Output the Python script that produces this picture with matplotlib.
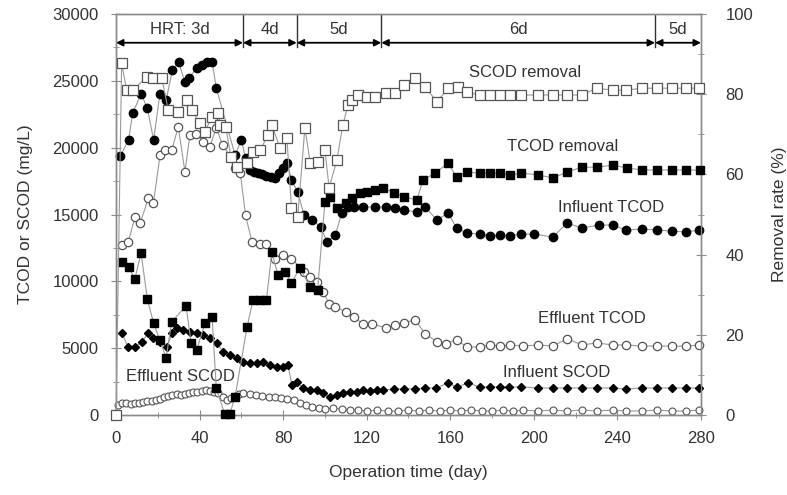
import matplotlib
matplotlib.use("Agg")
import matplotlib.pyplot as plt

plt.rcParams['font.family'] = ['Liberation Sans', 'DejaVu Sans']

# ---------------- data ----------------
# Influent TCOD (mg/L)
inf_tcod_day = [2, 6, 8, 12, 15, 18, 21, 24, 27, 30, 33, 35, 38.6, 41, 43.4, 46, 48, 57, 60, 62,
                64, 66, 68, 70, 72, 74, 76, 78, 80, 82, 84, 87, 90, 94, 98, 101, 105, 108, 111, 114,
                118, 124, 129, 133.5, 138, 144, 148, 153.6, 159, 163, 168, 174, 179, 184, 188.5, 194,
                200, 209, 216, 223, 231, 238, 244, 252, 259, 266, 273, 279]
inf_tcod = [19370, 20570, 22590, 24010, 22960, 20570, 24010, 23560, 25810, 26400, 24900, 25200, 25960,
            26180, 26400, 26400, 24460, 19450, 20570, 19220,
            18300, 18200, 18100, 18000, 17900, 17800, 17700, 18100, 18500, 18850, 17580, 16680, 14960,
            14590, 14060, 12940, 13460, 15110, 15560, 15560,
            15560, 15560, 15560, 15480, 15330, 15180, 15560, 14590, 15110, 13990, 13610, 13540, 13390,
            13460, 13390, 13540,
            13540, 13310, 14360, 13990, 14210, 14210, 13840, 13910, 13840, 13760, 13690, 13840]

# Effluent TCOD (mg/L)
eff_tcod_day = [2.7, 5.9, 9.1, 11.5, 15.5, 17.9, 21.1, 23.4, 26.7, 29.8, 33, 35.4, 38.5, 41.8, 45, 48,
                51, 55.4, 57, 59.5, 62, 65, 69, 72, 76, 80, 84, 90, 93, 96, 99, 102, 105, 110, 114, 118,
                122.5, 129, 133.5, 138, 143, 148, 153.6, 158, 163, 168, 174, 179, 184, 188.5, 194.7,
                202, 209, 216, 223, 230, 238, 244, 252, 259, 266, 273, 279]
eff_tcod = [12720, 12960, 14830, 14340, 16210, 15840, 19450, 19820, 19820, 21570, 18200, 20940, 21000,
            20440, 20070, 21500, 20200, 19200, 18450, 18100, 14960, 12970, 12820, 12820, 11700, 12000,
            11700, 10730, 10300, 9980, 9230, 8330, 8100, 7700, 7350, 6820,
            6820, 6530, 6750, 6900, 7130, 6080, 5470, 5330, 5630, 5090, 5090, 5240, 5160, 5240, 5160,
            5240, 5160, 5700, 5240, 5390, 5240, 5240, 5160, 5160, 5160, 5160, 5240]

# Influent SCOD (mg/L)
inf_scod_day = [2.9, 5.7, 9.1, 12.4, 15.3, 17.9, 21, 24.4, 26.8, 29.2, 32, 35.4, 38.8, 41.6, 45, 48.3,
                51.2, 54.5, 57.9, 60.8, 64.1, 67.5, 70.4, 73.7, 77, 80, 82.3, 84.2, 86.6, 89.5, 92.9,
                96.2, 99, 102.4, 105.8, 108.6, 112, 115.3, 118.2, 121.6, 125, 127.8, 133, 138, 143,
                148, 153, 159, 163, 168.5, 174, 179, 184, 188, 194, 202, 209, 216, 223, 230, 238, 244,
                252, 259, 266, 273, 279]
inf_scod = [6130, 5090, 5090, 5460, 6130, 5740, 5460, 5090, 6130, 6510, 6360, 6210, 6130, 5980, 5760,
            5390, 4710, 4490, 4260, 3960, 3890, 3890, 3960, 3740, 3590, 3590, 3740, 2240, 2470, 2020,
            1870, 1870, 1650, 1350, 1500, 1650, 1720, 1720, 1870, 1800, 1870, 1870, 1950, 1950, 1950,
            2020, 2020, 2390, 2100, 2390, 2100, 2100, 2100, 2100, 2100, 2020, 2020, 2020, 2020, 2020,
            2020, 1950, 2020, 2020, 2020, 2020, 2020]

# Effluent SCOD (mg/L)
eff_scod_day = [1, 3, 5, 7, 9, 11, 13, 15, 17, 19, 21, 23, 25, 27, 29, 31, 33, 35, 37, 39, 41, 43, 45,
                47, 49, 51, 53, 55, 57, 59, 61, 64, 67, 70, 73, 76, 79, 82, 85, 88, 91, 94, 97, 100,
                104, 108, 112, 116, 120, 125, 130, 135, 140, 145, 150, 155, 160, 165, 170, 175, 180,
                185, 190, 195, 202, 209, 216, 223, 230, 238, 244, 252, 259, 266, 273, 279]
eff_scod = [750, 900, 900, 820, 900, 900, 970, 1050, 1050, 1120, 1200, 1350, 1420, 1500, 1570, 1500,
            1570, 1650, 1720, 1720, 1800, 1870, 1800, 1720, 1650, 1350, 1120, 1270, 1420, 1570, 1650,
            1570, 1500, 1420, 1350, 1350, 1270, 1200, 1120, 900, 750, 600, 520, 450,
            520, 450, 370, 370, 300, 370, 300, 300, 370, 300, 370, 300, 370, 300, 370, 300, 300,
            370, 300, 370, 300, 370, 300, 370, 300, 370, 300, 300, 370, 300, 300, 370]

# TCOD removal (%)
tcod_rem_day = [2.7, 6, 9, 12, 15, 18, 21, 24, 26.6, 33.5, 36, 38.6, 42.6, 46, 48, 52, 54.5, 57, 62.7,
                65.6, 69, 72, 74.6, 77.5, 81, 84, 88, 93, 96.5, 100, 102.5, 106, 110, 113, 117, 120,
                124, 128, 133, 138, 144, 147, 152.6, 159, 163, 168, 174, 179, 184, 188.5, 194, 202,
                209, 216, 223, 230, 238, 244.5, 252, 259, 266, 273, 279.4]
tcod_rem = [38.2, 36.9, 33.9, 40.4, 28.9, 22.9, 18.7, 14.2, 23.2, 27.2, 18.0, 16.2, 22.9, 24.4, 6.7,
            0.3, 0.3, 4.5, 21.9, 28.7, 28.7, 28.7, 40.6, 34.9, 35.7, 32.9, 36.7, 31.9, 31.2, 53.1,
            54.4, 51.6, 52.9, 54.1, 55.4, 55.6, 56.1, 56.6, 55.4, 54.4, 53.6, 58.6, 60.3, 62.8, 59.4,
            60.6, 60.3, 60.3, 60.3, 59.9, 60.3, 59.9, 59.1, 60.6, 61.8, 61.8, 62.3, 61.6, 61.1, 61.1,
            61.1, 61.1, 61.1]

# SCOD removal (%)
scod_rem_day = [0, 2.7, 5.1, 8.3, 14.7, 17.9, 21.9, 25, 29.8, 33.8, 36.2, 40.2, 42.6, 45.8, 49, 50,
                52.5, 55, 58, 62.7, 65.6, 69, 72.8, 74.6, 78.5, 81.8, 84, 87, 90.4, 93, 96.7, 100, 102,
                105.7, 108.6, 111, 113, 116, 120, 124, 129, 133.5, 138, 143, 148, 153.6, 159, 163.6,
                168, 174, 179, 184, 188.5, 194, 202, 209, 216, 223, 230, 238, 244, 252, 259, 266, 273,
                279]
scod_rem = [0, 87.7, 81.0, 81.0, 84.4, 84.0, 84.0, 76.1, 75.6, 78.6, 76.1, 72.7, 70.6, 74.4, 75.2, 72.3,
            71.9, 64.4, 61.9, 62.8, 65.6, 66.1, 69.8, 72.3, 66.6, 69.1, 51.6, 49.4, 71.6, 62.8, 63.1,
            66.1, 56.6, 63.6, 72.3, 77.3, 78.6, 79.8, 79.3, 79.3, 80.3, 80.3, 82.3, 84.0, 81.8, 78.1,
            81.5, 81.8, 80.5, 79.8, 79.8, 79.8, 79.8, 79.8, 79.8, 79.8, 79.8, 79.8, 81.5, 81.0, 81.0,
            81.5, 81.5, 81.5, 81.5, 81.5]

# HRT periods
hrt_bounds = [0, 60.8, 86.5, 127, 258, 280]
hrt_labels = ['HRT: 3d', '4d', '5d', '6d', '5d']

# ---------------- figure ----------------
fig = plt.figure(figsize=(7.87, 4.95), dpi=100)
ax = fig.add_axes([0.1474, 0.1616, 0.7433, 0.8101])
ax2 = ax.twinx()

line_c = '#9a9a9a'
edge_open = '#555555'
txt_c = '#333333'

ax.plot(inf_tcod_day, inf_tcod, '-', color=line_c, lw=0.8, marker='o', ms=6,
        mfc='black', mec='black', clip_on=False, zorder=3)
ax.plot(eff_tcod_day, eff_tcod, '-', color=line_c, lw=0.8, marker='o', ms=6,
        mfc='white', mec=edge_open, mew=0.9, clip_on=False, zorder=3)
ax.plot(inf_scod_day, inf_scod, '-', color=line_c, lw=0.8, marker='D', ms=4.5,
        mfc='black', mec='black', clip_on=False, zorder=3)
ax.plot(eff_scod_day, eff_scod, '-', color=line_c, lw=0.8, marker='o', ms=5,
        mfc='white', mec=edge_open, mew=0.8, clip_on=False, zorder=3)

ax2.plot(tcod_rem_day, tcod_rem, '-', color=line_c, lw=0.8, marker='s', ms=6,
         mfc='black', mec='black', clip_on=False, zorder=3)
ax2.plot(scod_rem_day, scod_rem, '-', color=line_c, lw=0.8, marker='s', ms=6.5,
         mfc='white', mec=edge_open, mew=0.9, clip_on=False, zorder=3)

ax.set_xlim(0, 280)
ax.set_ylim(0, 30000)
ax2.set_ylim(0, 100)

ax.set_xticks(range(0, 281, 40))
ax.set_xticks(range(0, 281, 20), minor=True)
ax.set_yticks(range(0, 30001, 5000))
ax.set_yticks(range(0, 30001, 2500), minor=True)
ax2.set_yticks(range(0, 101, 20))
ax2.set_yticks(range(0, 101, 10), minor=True)

for a in (ax, ax2):
    for s in a.spines.values():
        s.set_color('#8a8a8a')
        s.set_linewidth(1.0)
    a.tick_params(which='both', direction='inout', colors='#8a8a8a', labelcolor=txt_c,
                  labelsize=12)
    a.tick_params(which='major', length=7)
    a.tick_params(which='minor', length=4)
ax.tick_params(axis='x', pad=8)
ax.tick_params(axis='y', pad=9)
ax2.tick_params(axis='y', pad=14)

ax.set_xlabel('Operation time (day)', fontsize=12.5, color=txt_c, labelpad=14)
ax.set_ylabel('TCOD or SCOD (mg/L)', fontsize=12.5, color=txt_c, labelpad=14)
ax2.set_ylabel('Removal rate (%)', fontsize=12.5, color=txt_c, rotation=90, labelpad=14)

# HRT bar at the top
y_arrow = 27850
for i in range(len(hrt_labels)):
    a0, a1 = hrt_bounds[i], hrt_bounds[i + 1]
    ax.annotate('', xy=(a1, y_arrow), xytext=(a0, y_arrow),
                arrowprops=dict(arrowstyle='<|-|>', color='black', lw=1.3,
                                shrinkA=0, shrinkB=0, mutation_scale=10))
    ax.text((a0 + a1) / 2, 28850, hrt_labels[i], ha='center', va='center',
            fontsize=12, color=txt_c)
for b in hrt_bounds[1:-1]:
    ax.plot([b, b], [27500, 30000], color='#333333', lw=1)

# series labels
ax.text(196, 25600, 'SCOD removal', ha='center', va='center', fontsize=12, color=txt_c)
ax.text(214, 20100, 'TCOD removal', ha='center', va='center', fontsize=12, color=txt_c)
ax.text(237, 15550, 'Influent TCOD', ha='center', va='center', fontsize=12, color=txt_c)
ax.text(228, 7200, 'Effluent TCOD', ha='center', va='center', fontsize=12, color=txt_c)
ax.text(211, 3200, 'Influent SCOD', ha='center', va='center', fontsize=12, color=txt_c)
ax.text(31, 2850, 'Effluent SCOD', ha='center', va='center', fontsize=12, color=txt_c)

fig.savefig('out.png', dpi=100)
